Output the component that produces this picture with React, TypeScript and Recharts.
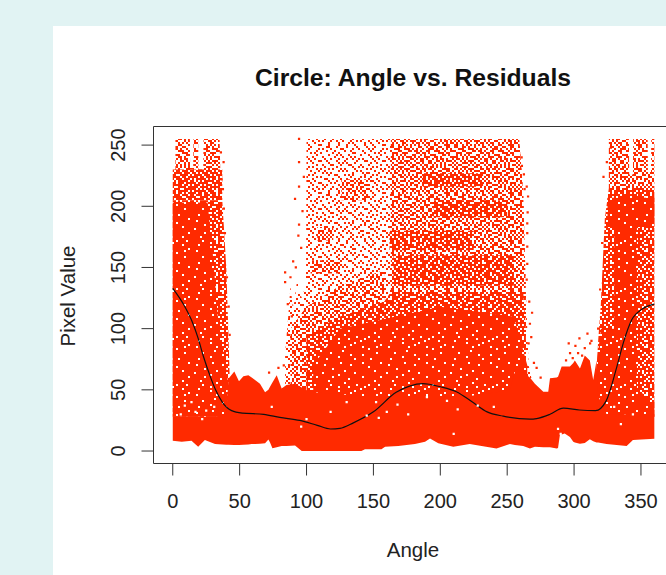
import { Area, ComposedChart, Line, ReferenceArea, Scatter, XAxis, YAxis, ZAxis } from "recharts"

const RED = "#ff2a00"
const TICK = "#333333"
const TEXT = "#222222"
const FONT = "'Liberation Sans', Arial, sans-serif"

const xTicks = [0, 50, 100, 150, 200, 250, 300, 350]
const yTicks = [0, 50, 100, 150, 200, 250]

// smoother through the cloud
const smoothAngles = [0, 8, 14, 19, 23, 28, 32, 37, 44, 52, 68, 80, 95, 108, 118, 125, 135, 150, 167, 177, 187, 200, 212, 224, 235, 247, 267, 272, 282, 292, 304, 316, 324, 332, 337, 343, 351, 360]
const smoothValues = [133, 120, 107, 92, 77, 61, 50, 40, 33, 31, 30, 27.5, 25, 21, 18, 18.5, 23, 32, 48, 53, 55, 52.5, 48.5, 40, 32, 28.5, 26, 26.5, 30, 35, 33.5, 33, 41, 69, 89, 107, 116, 120]

// point cloud outline as [angle, low, high], one list per density
const solidFloor = [
  [0, 8.4, 28], [6.7, 7.6, 28], [14, 8.4, 28], [19, 3.5, 28], [24, 9, 28], [31.6, 5.7, 28], [40, 5.2, 30], [41.6, 5.1, 59], [46, 5, 65], [49.5, 5, 57], [52.8, 5.2, 61], [56.5, 5.4, 62], [59, 5.7, 60], [61.5, 5.8, 58], [65.2, 6, 55], [69, 6.3, 48], [71.5, 9.5, 50], [72.7, 7, 52.6], [74.5, 2.2, 56], [77.7, 3, 62], [81.4, 4, 51], [85, 4.2, 54], [91.4, 4.6, 55], [96.4, 0, 52], [98.9, 0, 50], [106, 0, 48],
  [141, 0, 45], [143.7, 1.5, 45], [156, 1.5, 45], [158.7, 3.5, 45], [168.6, 4, 45], [181, 5.7, 45], [188.6, 7.6, 45], [192.3, 10.3, 45], [198.5, 6.3, 45], [209.7, 3.5, 45], [222, 5.7, 45], [242, 2, 48], [252, 5.7, 50], [255.8, 5, 65], [262, 4, 64], [267, 2, 60], [270.7, 3.5, 55], [277, 3, 48.5], [280.7, 3, 48.5], [282, 3, 59.4], [287, 2, 60], [288, 2.5, 60.7], [289.4, 13, 65], [290.7, 13.5, 69], [293, 14.3, 69], [296.9, 11.5, 69], [299.4, 7.6, 72], [300.6, 7, 74], [304.4, 6, 67.5], [308, 6.5, 78], [311.8, 9.6, 74], [314.3, 8, 58], [316.8, 7, 74], [318, 7, 45], [324.3, 5.7, 30], [339.3, 4, 30], [344, 9, 30], [360, 10, 30],
]
const leftLobeTop = [
  [2, 228, 255], [12.8, 228, 255], [13, 230, 232], [15.3, 230, 232], [15.5, 228, 255], [19, 228, 255], [19.2, 228, 230], [22.8, 228, 230], [23, 228, 255], [35, 228, 255], [35.5, 228, 232],
]
const leftLobeUpper = [[0, 205, 230], [37, 205, 230]]
const leftLobeEdge = [[0, 28, 205], [37, 28, 205], [40, 28, 150], [41.5, 28, 100], [42.5, 28, 62]]
const leftLobeCore = [[0, 28, 203], [26, 28, 203], [30, 28, 160], [34, 28, 105], [38, 28, 80], [41, 28, 60]]

const middleBase = [[84, 50, 80], [86, 50, 105], [88, 50, 135], [90, 50, 115], [93, 50, 140], [96, 50, 125], [99.6, 50, 135], [100, 50, 255], [259, 50, 255], [262, 50, 210], [264, 50, 130], [266, 50, 70], [268, 50, 60]]
const middleLeftMid = [[88, 50, 100], [100, 50, 118], [125, 50, 135], [158, 50, 148]]
const middleRightMid = [[163, 50, 255], [259, 50, 255], [262, 50, 210], [264, 50, 130]]
const middleLeftHeavy = [[100, 45, 95], [125, 45, 110], [158, 45, 122]]
const middleRightHeavy = [[158, 45, 122], [163, 45, 130], [262, 45, 130], [264, 45, 100]]
const clumpOne = [[187, 216, 227], [232, 216, 227]]
const clumpTwo = [[195, 191, 205], [250, 191, 205]]
const clumpThree = [[162, 164, 180], [225, 164, 180]]
const clumpFour = [[165, 135, 160], [255, 135, 160]]
const clumpFive = [[108, 172, 183], [120, 172, 183]]
const clumpSix = [[103, 145, 156], [125, 145, 156]]
const clumpSeven = [[126, 205, 222], [146, 205, 222]]
const middleCore = [[105, 40, 70], [125, 40, 100], [200, 40, 118], [255, 40, 110], [265, 40, 70]]

const rightLobeTop = [[326, 215, 255], [341, 215, 255], [341.2, 215, 226], [344, 215, 226], [344.2, 215, 255], [355, 215, 255], [355.2, 215, 228], [357.5, 215, 228], [357.7, 215, 255], [360, 215, 255]]
const rightLobeEnvelope = [[317, 28, 70], [318, 28, 90], [320, 28, 120], [323, 28, 190], [326, 28, 215], [360, 28, 215]]
const rightLobeCore = [[330, 28, 210], [347, 28, 210]]
const rightLobeBar = [[325, 183, 207], [360, 183, 207]]
const rightLobeLow = [[317, 28, 72], [320, 28, 100], [335, 28, 100], [345, 28, 52], [360, 28, 40]]

// stray points beside the main blocks
const strayAngles = [91.4, 94.4, 94.4, 94.4, 94.4, 93.9, 84, 84, 88, 86, 90, 96, 97, 98, 92, 265.3, 264.6, 265.6, 265, 265, 265, 264.6, 268.6, 268, 260.8, 261, 262.5, 263, 265, 266.5, 267, 266, 36.5, 37.5, 38.2, 39, 40.5, 41.8, 42.5, 38, 36, 322, 324.5, 327.5, 321, 319.5, 318, 72, 79, 83, 86, 89, 270, 272, 275, 294, 297, 299, 301, 304, 306, 308, 310, 312, 313, 303, 296]
const strayValues = [206, 236, 255, 216, 185, 176, 146, 138, 142, 120, 155, 166, 196, 224, 150, 195, 216, 208, 186, 167, 153, 140, 113, 93, 240, 233, 226, 214, 178, 122, 104, 88, 222, 214, 198, 178, 142, 118, 95, 236, 244, 224, 236, 248, 170, 132, 100, 64, 68, 70, 95, 110, 72, 68, 60, 74, 80, 76, 86, 92, 78, 84, 96, 88, 90, 80, 88]

// gaps showing inside the solid part
const gapAngles = [25, 31, 14, 9, 17, 6, 22, 160, 168, 176, 154, 190, 205, 213, 228, 152, 240, 118, 130, 145, 74, 96, 100, 210, 290, 288, 330, 335, 344]
const gapValues = [33, 36, 40, 37, 32, 30, 26, 32, 38, 30, 27, 44, 41, 34, 37, 40, 36, 32, 40, 29, 36, 20, 26, 14, 14, 18, 36, 22, 30]

// stipple cells: a lower digit stays red at a thinner density
const stipple = [
  "13421532413241324153241352143521",
  "24311432152341543213425123412342",
  "31453122431123241341532213154231",
  "42213341253412312524312431223413",
  "14342213412234451132241343412152",
  "23541324131453123423154212345213",
  "31222431423122314143222351231344",
  "43132142314531241321413423142132",
  "12413523142213423412341134215231",
  "34241342213141352132452241331423",
  "21324113451423113423123413242314",
  "43152432123342241541314225141323",
  "13421314241213432132242131334212",
  "24133242315141223413153423412351",
  "31514123423324351224314112243124",
  "42231431142413131342231354131243",
  "13342253213242412423141221423412",
  "24113314341351234131342413251324",
  "35241423122413421513234241132143",
  "12432131453132143242113342314231",
  "41314253214241312341452113241352",
  "23142312431323541423213442132413",
  "31425143124142213314134213451321",
  "42231324312453141242321341323142",
]

const bands = [
  { id: "leftTop", rows: leftLobeTop, fill: "url(#mid)" },
  { id: "leftUpper", rows: leftLobeUpper, fill: "url(#heavy)" },
  { id: "leftEdge", rows: leftLobeEdge, fill: "url(#heavy)" },
  { id: "leftCore", rows: leftLobeCore, fill: "url(#dense)" },
  { id: "middleBase", rows: middleBase, fill: "url(#thin)" },
  { id: "middleLeftMid", rows: middleLeftMid, fill: "url(#mid)" },
  { id: "middleRightMid", rows: middleRightMid, fill: "url(#mid)" },
  { id: "middleLeftHeavy", rows: middleLeftHeavy, fill: "url(#heavy)" },
  { id: "middleRightHeavy", rows: middleRightHeavy, fill: "url(#heavy)" },
  { id: "clumpOne", rows: clumpOne, fill: "url(#heavy)" },
  { id: "clumpTwo", rows: clumpTwo, fill: "url(#heavy)" },
  { id: "clumpThree", rows: clumpThree, fill: "url(#heavy)" },
  { id: "clumpFour", rows: clumpFour, fill: "url(#heavy)" },
  { id: "clumpFive", rows: clumpFive, fill: "url(#mid)" },
  { id: "clumpSix", rows: clumpSix, fill: "url(#mid)" },
  { id: "clumpSeven", rows: clumpSeven, fill: "url(#mid)" },
  { id: "middleCore", rows: middleCore, fill: "url(#dense)" },
  { id: "rightTop", rows: rightLobeTop, fill: "url(#mid)" },
  { id: "rightEnvelope", rows: rightLobeEnvelope, fill: "url(#heavy)" },
  { id: "rightCore", rows: rightLobeCore, fill: "url(#dense)" },
  { id: "rightBar", rows: rightLobeBar, fill: "url(#dense)" },
  { id: "rightLow", rows: rightLobeLow, fill: "url(#dense)" },
  { id: "solidFloor", rows: solidFloor, fill: RED },
]

const toBandRows = (rows: number[][]) => rows.map(([angle, low, high]) => ({ angle, range: [low, high] }))
const toPoints = (angles: number[], values: number[]) => angles.map((angle, i) => ({ angle, value: values[i] }))

function StipplePattern({ id, limit }: { id: string; limit: number }) {
  return (
    <pattern id={id} patternUnits="userSpaceOnUse" width={64} height={48}>
      {stipple.flatMap((row, y) =>
        row.split("").map((cell, x) =>
          Number(cell) <= limit ? (
            <rect key={`${x}-${y}`} x={x * 2} y={y * 2} width={2} height={2} fill={RED} shapeRendering="crispEdges" />
          ) : null,
        ),
      )}
    </pattern>
  )
}

function YTick({ x, y, payload }: any) {
  return (
    <text
      x={x - 14}
      y={y}
      transform={`rotate(-90 ${x - 14} ${y})`}
      textAnchor="middle"
      fontSize={20}
      fontFamily={FONT}
      fill={TEXT}
    >
      {payload.value}
    </text>
  )
}

export default function App() {
  return (
    <div style={{ position: "fixed", left: 0, top: 0, width: 666, height: 575, overflow: "hidden", background: "#e1f3f3" }}>
      <div style={{ position: "absolute", left: 53, top: 26, width: 613, height: 549, background: "#ffffff" }} />
      <div style={{ position: "absolute", left: 0, top: 0 }}>
        <ComposedChart width={720} height={575} margin={{ top: 126.5, right: 46.4, bottom: 0, left: 0 }}>
          <defs>
            <StipplePattern id="thin" limit={1} />
            <StipplePattern id="mid" limit={2} />
            <StipplePattern id="heavy" limit={3} />
            <StipplePattern id="dense" limit={4} />
          </defs>
          <XAxis
            dataKey="angle"
            type="number"
            domain={[-14.4, 374.4]}
            ticks={xTicks}
            allowDataOverflow
            height={111.5}
            axisLine={false}
            tickLine={{ stroke: TICK }}
            tickSize={12}
            tickMargin={18}
            interval={0}
            tick={{ fontSize: 20, fontFamily: FONT, fill: TEXT }}
          />
          <YAxis
            dataKey="value"
            type="number"
            domain={[-10.2, 265.2]}
            ticks={yTicks}
            allowDataOverflow
            width={153.5}
            axisLine={false}
            tickLine={{ stroke: TICK }}
            tickSize={12}
            interval={0}
            tick={YTick}
          />
          <ZAxis range={[5, 5]} />
          <ReferenceArea x1={-14.4} x2={374.4} y1={-10.2} y2={265.2} fill="none" stroke={TICK} strokeWidth={1} ifOverflow="visible" />
          {bands.map((band) => (
            <Area
              key={band.id}
              data={toBandRows(band.rows)}
              dataKey="range"
              type="linear"
              stroke="none"
              fill={band.fill}
              fillOpacity={1}
              dot={false}
              activeDot={false}
              isAnimationActive={false}
            />
          ))}
          <Scatter data={toPoints(strayAngles, strayValues)} dataKey="value" shape="square" fill={RED} isAnimationActive={false} />
          <Scatter data={toPoints(gapAngles, gapValues)} dataKey="value" shape="square" fill="#ffffff" isAnimationActive={false} />
          <Line
            data={toPoints(smoothAngles, smoothValues)}
            dataKey="value"
            type="monotone"
            stroke="#111111"
            strokeWidth={1.2}
            dot={false}
            activeDot={false}
            isAnimationActive={false}
          />
          <text x={413} y={86} textAnchor="middle" fontSize={24.7} fontWeight="bold" fontFamily={FONT} fill="#111111">
            Circle: Angle vs. Residuals
          </text>
          <text x={413} y={557} textAnchor="middle" fontSize={20.5} fontFamily={FONT} fill={TEXT}>
            Angle
          </text>
          <text x={75} y={296} transform="rotate(-90 75 296)" textAnchor="middle" fontSize={20.5} fontFamily={FONT} fill={TEXT}>
            Pixel Value
          </text>
        </ComposedChart>
      </div>
    </div>
  )
}
